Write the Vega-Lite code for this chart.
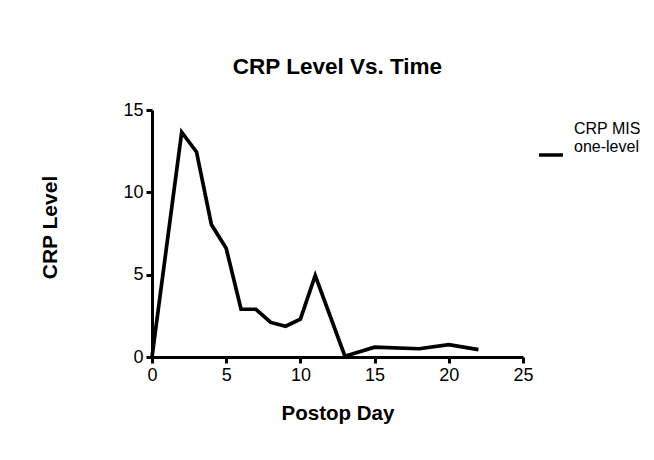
{
  "$schema": "https://vega.github.io/schema/vega-lite/v6.json",
  "width": 371,
  "height": 247,
  "autosize": {"type": "none"},
  "padding": {"left": 152, "top": 110, "right": 131, "bottom": 103},
  "background": "white",
  "title": {"text": "CRP Level Vs. Time", "font": "Liberation Sans", "fontSize": 22.5, "fontWeight": "bold", "color": "black", "offset": 23, "anchor": "middle"},
  "data": {"values": [
    {"day": 0, "crp": 0, "series": "CRP MIS one-level"},
    {"day": 2, "crp": 13.65, "series": "CRP MIS one-level"},
    {"day": 3, "crp": 12.45, "series": "CRP MIS one-level"},
    {"day": 4, "crp": 8.05, "series": "CRP MIS one-level"},
    {"day": 5, "crp": 6.6, "series": "CRP MIS one-level"},
    {"day": 6, "crp": 2.9, "series": "CRP MIS one-level"},
    {"day": 7, "crp": 2.9, "series": "CRP MIS one-level"},
    {"day": 8, "crp": 2.1, "series": "CRP MIS one-level"},
    {"day": 9, "crp": 1.87, "series": "CRP MIS one-level"},
    {"day": 10, "crp": 2.3, "series": "CRP MIS one-level"},
    {"day": 11, "crp": 4.95, "series": "CRP MIS one-level"},
    {"day": 13, "crp": 0.05, "series": "CRP MIS one-level"},
    {"day": 15, "crp": 0.6, "series": "CRP MIS one-level"},
    {"day": 18, "crp": 0.5, "series": "CRP MIS one-level"},
    {"day": 20, "crp": 0.75, "series": "CRP MIS one-level"},
    {"day": 22, "crp": 0.45, "series": "CRP MIS one-level"}
  ]},
  "mark": {"type": "line", "strokeWidth": 3.7, "strokeJoin": "miter", "clip": false},
  "encoding": {
    "x": {"field": "day", "type": "quantitative", "scale": {"domain": [0, 25], "nice": false},
      "axis": {"title": "Postop Day", "values": [0, 5, 10, 15, 20, 25], "grid": false, "labelFlush": false, "titlePadding": 19, "titleFontSize": 20.5}},
    "y": {"field": "crp", "type": "quantitative", "scale": {"domain": [0, 15], "nice": false},
      "axis": {"title": "CRP Level", "values": [0, 5, 10, 15], "grid": false, "labelFlush": false, "titlePadding": 62, "titleFontSize": 21, "titleY": 117}},
    "color": {"field": "series", "type": "nominal", "scale": {"range": ["black"]},
      "legend": {"title": null, "orient": "none", "legendX": 385, "legendY": 31, "symbolType": "stroke", "symbolSize": 576, "symbolStrokeWidth": 3.5,
        "labelExpr": "['CRP MIS', 'one-level']", "labelFont": "Liberation Sans", "labelFontSize": 16, "labelLineHeight": 17, "labelBaseline": "bottom", "labelColor": "black", "labelOffset": 9, "labelLimit": 200,
        "encode": {"labels": {"update": {"dy": {"value": -18}}}}}}
  },
  "config": {
    "view": {"stroke": null},
    "axis": {"domainColor": "black", "domainWidth": 3, "tickColor": "black", "tickWidth": 3, "tickSize": 6,
      "labelFont": "Liberation Sans", "labelFontSize": 18, "labelColor": "black", "labelPadding": 3,
      "titleFont": "Liberation Sans", "titleFontWeight": "bold", "titleColor": "black"}
  }
}
